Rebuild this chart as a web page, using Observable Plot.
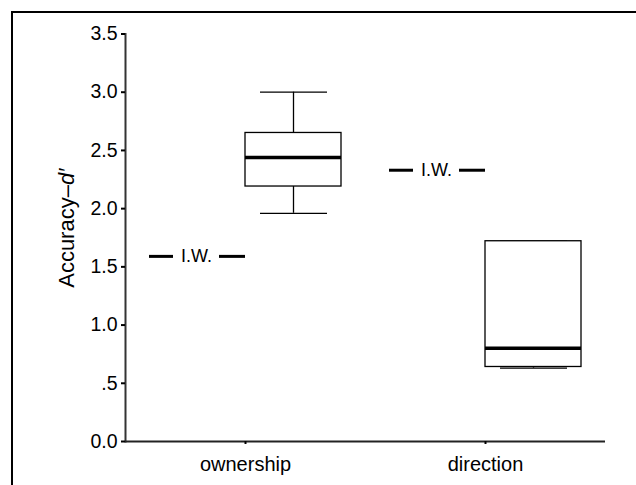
<!DOCTYPE html>
<html>
<head>
<meta charset="utf-8">
<script src="https://cdn.jsdelivr.net/npm/d3@7"></script>
<script src="https://cdn.jsdelivr.net/npm/@observablehq/plot@0.6"></script>
<style>
  html, body { margin: 0; padding: 0; background: #fff; }
  #wrap { position: relative; width: 636px; height: 485px; overflow: hidden; }
  #border { position: absolute; left: 11px; top: 11px; width: 700px; height: 600px;
            border-left: 2.5px solid #000; border-top: 2.5px solid #000; pointer-events: none; }
  svg { font-family: "Liberation Sans", Arial, sans-serif; }
</style>
</head>
<body>
<div id="wrap"><div id="border"></div></div>
<script>
// Data
const categories = ["ownership", "direction"];
const iwValues = [1.59, 2.33];          // I.W. markers
const whiskerLow = [1.96, 0.63];
const q1 = [2.19, 0.64];
const median = [2.44, 0.80];
const q3 = [2.65, 1.72];
const whiskerHigh = [3.0, 1.72];
const yTicks = [0, 0.5, 1.0, 1.5, 2.0, 2.5, 3.0, 3.5];
const yTickLabels = ["0.0", ".5", "1.0", "1.5", "2.0", "2.5", "3.0", "3.5"];

const rows = categories.map((c, i) => ({
  cat: c, iw: iwValues[i], lo: whiskerLow[i], q1: q1[i], med: median[i], q3: q3[i], hi: whiskerHigh[i]
}));

const plot = Plot.plot({
  width: 636,
  height: 485,
  marginLeft: 125,
  marginRight: 31,
  marginTop: 33.5,
  marginBottom: 44,
  style: { fontFamily: "'Liberation Sans', Arial, sans-serif", fontSize: "19px", color: "#000", background: "transparent" },
  x: { type: "band", domain: categories, padding: 0 },
  y: { domain: [0, 3.5] },
  marks: [
    Plot.frame({ anchor: "left", stroke: "#333", strokeWidth: 2 }),
    Plot.ruleY([0], { stroke: "#222", strokeWidth: 2 }),
    Plot.axisY({ ticks: yTicks, tickFormat: d => yTickLabels[yTicks.indexOf(d)], tickSize: 4, tickPadding: 4,
                 fontSize: 19.5, strokeWidth: 2, label: null }),
    Plot.axisX({ tickSize: 3, tickPadding: 12, fontSize: 20, strokeWidth: 2, label: null }),
    // whiskers
    Plot.ruleX(rows, { x: "cat", y1: "lo", y2: "q1", dx: 48, stroke: "#000", strokeWidth: 1.3 }),
    Plot.ruleX(rows, { x: "cat", y1: "q3", y2: "hi", dx: 48, stroke: "#000", strokeWidth: 1.3 }),
    Plot.tickY(rows, { x: "cat", y: "lo", insetLeft: 135, insetRight: 38, stroke: "#000", strokeWidth: 1.3 }),
    Plot.tickY(rows, { x: "cat", y: "hi", insetLeft: 135, insetRight: 38, stroke: "#000", strokeWidth: 1.3 }),
    // boxes
    Plot.barY(rows, { x: "cat", y1: "q1", y2: "q3", insetLeft: 120, insetRight: 24, fill: "#fff", stroke: "#000", strokeWidth: 1.3 }),
    Plot.tickY(rows, { x: "cat", y: "med", insetLeft: 120, insetRight: 24, stroke: "#000", strokeWidth: 3.5 }),
    // I.W. markers
    Plot.tickY(rows, { x: "cat", y: "iw", insetLeft: 24, insetRight: 192, stroke: "#000", strokeWidth: 3 }),
    Plot.tickY(rows, { x: "cat", y: "iw", insetLeft: 94, insetRight: 120, stroke: "#000", strokeWidth: 3 }),
    Plot.text(rows, { x: "cat", y: "iw", text: () => "I.W.", dx: -49, fontSize: 18, fill: "#000" })
  ]
});

document.getElementById("wrap").insertBefore(plot, document.getElementById("border"));

const svg = d3.select(plot);
// enforce tick label size on the y axis
svg.selectAll('g[aria-label="y-axis tick label"] text').style("font-size", "19.5px");
svg.selectAll('g[aria-label="y-axis tick label"]').style("font-size", "19.5px");

// Y axis label with italic d′
const yscale = plot.scale("y");
const yMid = (yscale.apply(0) + yscale.apply(3.5)) / 2 - 9;
const lab = svg.append("text")
  .attr("transform", `translate(74,${yMid}) rotate(-90)`)
  .attr("text-anchor", "middle")
  .attr("font-size", 22)
  .attr("fill", "#000");
lab.append("tspan").text("Accuracy\u2013");
lab.append("tspan").attr("font-style", "italic").text("d\u2032");
</script>
</body>
</html>
